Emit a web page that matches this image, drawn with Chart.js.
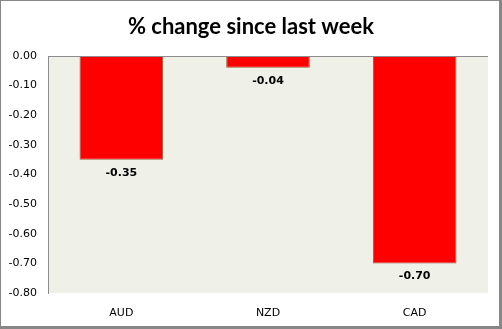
<!DOCTYPE html>
<html>
<head>
<meta charset="utf-8">
<script src="https://cdn.jsdelivr.net/npm/chart.js@4"></script>
<style>
    html, body { margin: 0; padding: 0; background: #fff; }
    #wrap { position: relative; width: 502px; height: 329px; }
</style>
</head>
<body>
<div id="wrap"><canvas id="chart"></canvas></div>
<script>
(function () {
    "use strict";

    // data
    const categories = ["AUD", "NZD", "CAD"];
    const changes = [-0.35, -0.04, -0.70];
    const yTicks = [0, -0.1, -0.2, -0.3, -0.4, -0.5, -0.6, -0.7, -0.8];

    const tickFont = { family: "'DejaVu Sans', sans-serif", size: 11 };

    // plot background, zero line, frame and value labels
    const decor = {
        id: "decor",
        beforeDraw(chart) {
            const { ctx, chartArea: a } = chart;
            ctx.save();
            ctx.fillStyle = "#eff1e8";
            ctx.fillRect(a.left, a.top, a.right - a.left, a.bottom - a.top);
            ctx.restore();
        },
        afterDatasetsDraw(chart) {
            const { ctx, chartArea: a, scales } = chart;
            const y0 = Math.round(scales.y.getPixelForValue(0)) + 0.5;
            ctx.save();
            ctx.strokeStyle = "#8c8c8c";
            ctx.lineWidth = 1;
            ctx.beginPath();
            ctx.moveTo(a.left, y0);
            ctx.lineTo(a.right, y0);
            ctx.stroke();

            // value labels under each bar
            ctx.fillStyle = "#000";
            ctx.font = "bold 11px 'DejaVu Sans', sans-serif";
            ctx.textAlign = "center";
            ctx.textBaseline = "middle";
            chart.getDatasetMeta(0).data.forEach((bar, i) => {
                ctx.fillText(changes[i].toFixed(2), bar.x, bar.y + 13);
            });

            // outer frame with a heavier right/bottom edge
            const w = chart.width, h = chart.height;
            ctx.fillStyle = "#878787";
            ctx.fillRect(0, 0, w, 1);
            ctx.fillRect(0, 0, 1, h);
            ctx.fillRect(w - 3, 0, 3, h);
            ctx.fillRect(0, h - 3, w, 3);
            ctx.restore();
        },
    };

    const ctx = document.getElementById("chart").getContext("2d");
    new Chart(ctx, {
        type: "bar",
        data: {
            labels: categories,
            datasets: [
                {
                    data: changes,
                    backgroundColor: "#ff0000",
                    borderColor: "#9c5a3c",
                    borderWidth: 1,
                    borderSkipped: false,
                    barPercentage: 0.57,
                    categoryPercentage: 1,
                },
            ],
        },
        options: {
            responsive: true,
            maintainAspectRatio: false,
            animation: false,
            layout: { padding: 0 },
            plugins: {
                legend: { display: false },
                tooltip: { enabled: false },
                title: {
                    display: true,
                    text: "% change since last week",
                    color: "#000",
                    font: { family: "Lato, sans-serif", size: 22, weight: "bold" },
                    padding: { top: 14, bottom: 15.6 },
                },
            },
            scales: {
                x: {
                    grid: { display: false },
                    border: { display: false },
                    ticks: { font: tickFont, color: "#000", padding: 6 },
                    afterFit: (s) => { s.height = 36; },
                },
                y: {
                    min: -0.8,
                    max: 0,
                    afterBuildTicks: (s) => { s.ticks = yTicks.map((v) => ({ value: v })); },
                    grid: { display: false, drawTicks: false },
                    border: { display: true, color: "#8c8c8c", width: 1 },
                    ticks: {
                        font: tickFont,
                        color: "#000",
                        padding: 11,
                        callback: (v) => Number(v).toFixed(2),
                    },
                    afterFit: (s) => { s.width = 48; },
                },
                // empty spacer on the right so the title stays centred on the whole chart
                spacer: {
                    type: "linear",
                    position: "right",
                    grid: { display: false, drawTicks: false },
                    border: { display: false },
                    ticks: { display: false },
                    afterFit: (s) => { s.width = 14; },
                },
            },
        },
        plugins: [decor],
    });
})();
</script>
</body>
</html>
